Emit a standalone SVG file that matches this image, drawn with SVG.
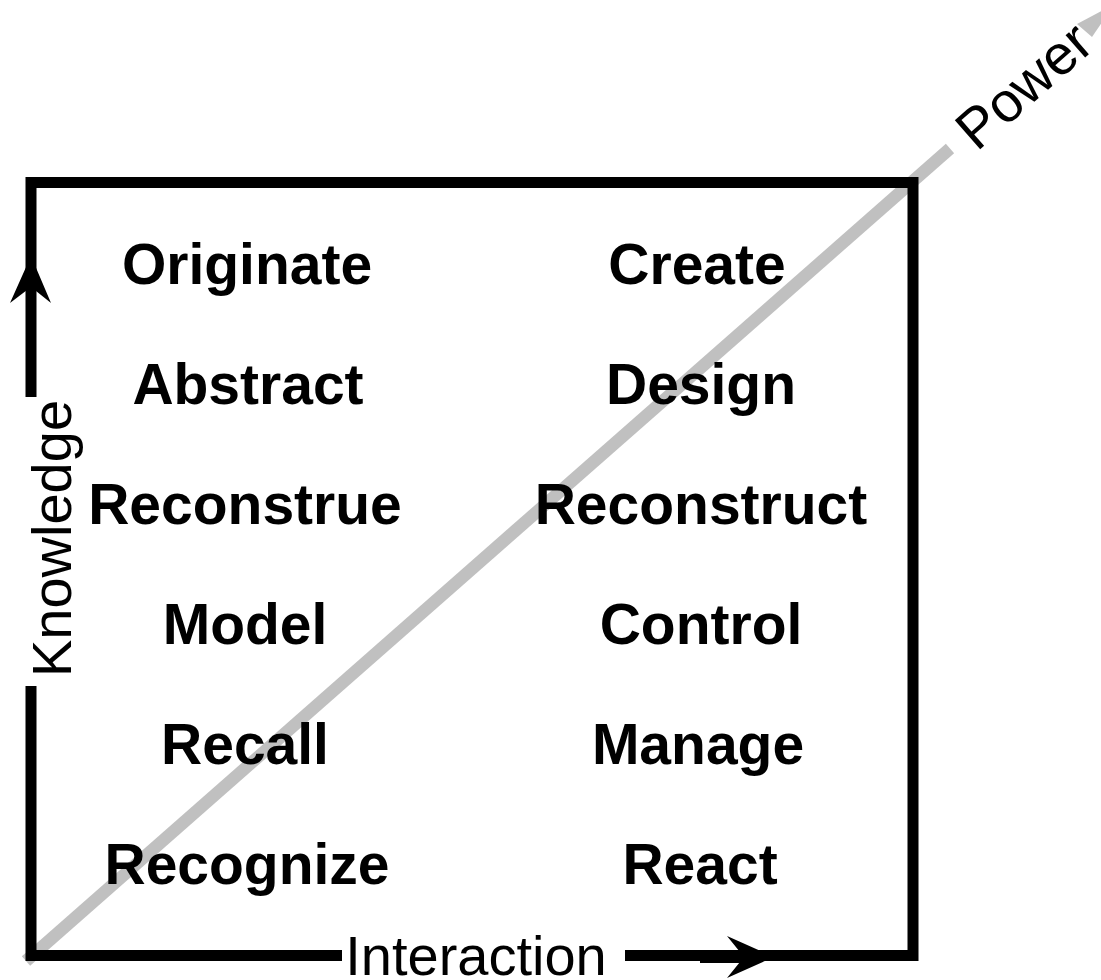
<svg xmlns="http://www.w3.org/2000/svg" width="1101" height="980" viewBox="0 0 1101 980">
<style>
.cell{font-family:"Liberation Sans",Arial,sans-serif;font-weight:bold;font-size:57px;fill:#000;text-anchor:middle}
.axis{font-family:"Liberation Sans",Arial,sans-serif;font-size:56px;fill:#000;text-anchor:middle}
.frame{fill:none;stroke:#000;stroke-width:11;stroke-linejoin:miter;stroke-linecap:butt}
</style>
<rect width="1101" height="980" fill="#fff"/>
<g id="power-axis">
<line x1="26" y1="961" x2="950" y2="148.5" stroke="#c0c0c0" stroke-width="12.5"/>
<polygon points="1077,24 1092,37 1114.5,4" fill="#c0c0c0"/>
<text class="axis" transform="translate(1036.5,100) rotate(-41.27)">Power</text>
</g>
<g id="connectors">
<path class="frame" d="M31,397 V182.5 H913 V955.5 H625 M342,955.5 H31 V686"/>
<polygon points="31,256 51,303 31,287 10,303" fill="#000"/>
<line x1="700" y1="957.5" x2="755" y2="957.5" stroke="#000" stroke-width="11"/>
<polygon points="774,957 727,936 744,957 727,978" fill="#000"/>
</g>
<g id="knowledge-label"><text class="axis" transform="translate(71,538.5) rotate(-90)">Knowledge</text></g>
<g id="interaction-label"><text class="axis" x="476" y="975">Interaction</text></g>
<g id="originate"><text class="cell" x="247" y="284">Originate</text></g>
<g id="abstract"><text class="cell" x="248" y="404">Abstract</text></g>
<g id="reconstrue"><text class="cell" x="245" y="524">Reconstrue</text></g>
<g id="model"><text class="cell" x="245" y="644">Model</text></g>
<g id="recall"><text class="cell" x="245" y="764">Recall</text></g>
<g id="recognize"><text class="cell" x="247" y="884">Recognize</text></g>
<g id="create"><text class="cell" x="697" y="284">Create</text></g>
<g id="design"><text class="cell" x="701" y="404">Design</text></g>
<g id="reconstruct"><text class="cell" x="701" y="524">Reconstruct</text></g>
<g id="control"><text class="cell" x="701" y="644">Control</text></g>
<g id="manage"><text class="cell" x="698" y="764">Manage</text></g>
<g id="react"><text class="cell" x="700" y="884">React</text></g>
</svg>
